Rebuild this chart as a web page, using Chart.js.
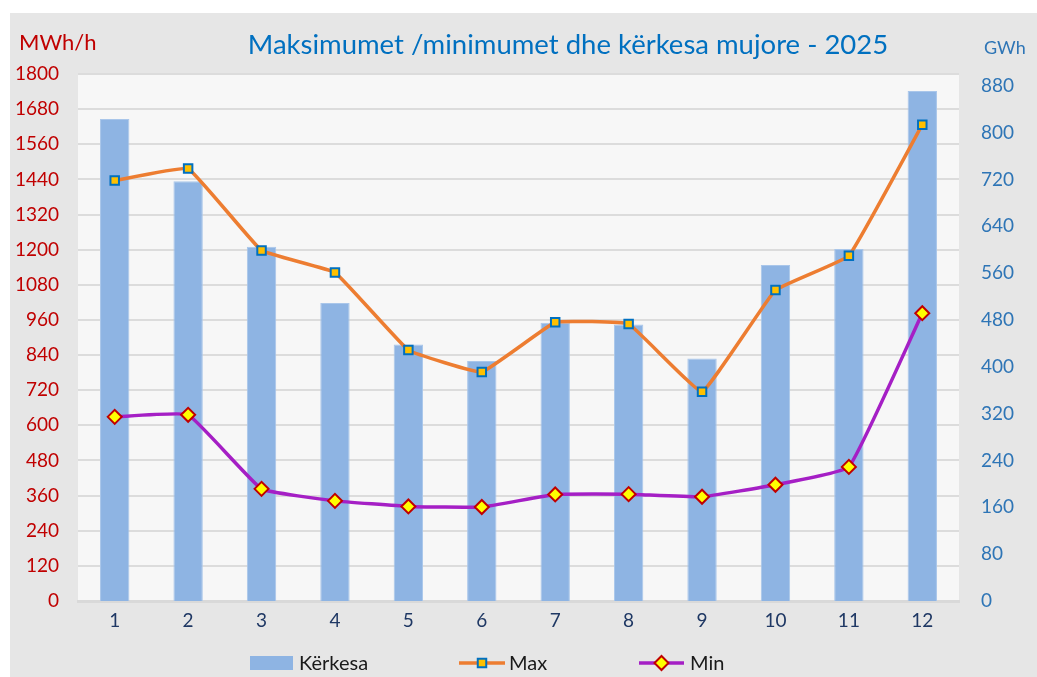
<!DOCTYPE html>
<html>
<head>
<meta charset="utf-8">
<script src="https://cdn.jsdelivr.net/npm/chart.js@4"></script>
<style>
  html, body { margin: 0; padding: 0; background: #fff; }
  #wrap { position: absolute; left: 10px; top: 13px; width: 1027px; height: 664px; background: #e6e6e6; }
  canvas { display: block; }
</style>
</head>
<body>
<div id="wrap"><canvas id="c" width="1027" height="664"></canvas></div>
<script>
// months
var MONTHS = ['1', '2', '3', '4', '5', '6', '7', '8', '9', '10', '11', '12'];
// monthly demand, GWh (right axis)
var KERKESA = [823, 717, 605, 509, 438, 410, 475, 472, 414, 574, 601, 871];
// hourly max / min, MWh/h (left axis)
var MAX = [1436, 1477, 1197, 1122, 857, 782, 952, 946, 715, 1062, 1179, 1627];
var MIN = [629, 636, 383, 342, 323, 321, 364, 365, 356, 397, 458, 983];

var TITLE = 'Maksimumet /minimumet dhe kërkesa mujore - 2025';
var FONT = "Lato, 'Open Sans', sans-serif";

var BAR_C = '#8eb4e3', MAX_C = '#ed7d31', MIN_C = '#a51fc5';

function plain(v) { return String(v); }   // no thousands separators

// plot background, title, unit labels, legend
var decor = {
  id: 'decor',
  beforeDraw: function (chart) {
    var a = chart.chartArea, ctx = chart.ctx;
    ctx.save();
    ctx.fillStyle = '#f7f7f7';
    ctx.fillRect(a.left, a.top, a.right - a.left, a.bottom - a.top);
    ctx.restore();
  },
  afterDraw: function (chart) {
    var ctx = chart.ctx;
    ctx.save();
    // title
    var sz = 30;
    ctx.font = sz + 'px ' + FONT;
    while (ctx.measureText(TITLE).width > 648 && sz > 16) { sz -= 0.5; ctx.font = sz + 'px ' + FONT; }
    ctx.fillStyle = '#0070c0';
    ctx.textAlign = 'center';
    ctx.textBaseline = 'middle';
    ctx.fillText(TITLE, 558, 32);
    // axis units
    ctx.font = '22px ' + FONT;
    ctx.fillStyle = '#c00000';
    ctx.textAlign = 'left';
    ctx.fillText('MWh/h', 9, 30);
    ctx.font = '18px ' + FONT;
    ctx.fillStyle = '#2e75b6';
    ctx.fillText('GWh', 974, 35);

    // legend
    var ly = 650;
    ctx.font = '20px ' + FONT;
    ctx.fillStyle = BAR_C;
    ctx.fillRect(240, ly - 7, 43, 14);
    ctx.fillStyle = '#1a1a1a';
    ctx.fillText(chart.data.datasets[0].label, 289, ly + 1);

    var items = [{ ds: chart.data.datasets[1], x0: 449, x1: 495, tx: 499 },
                 { ds: chart.data.datasets[2], x0: 629, x1: 674, tx: 680 }];
    items.forEach(function (it) {
      var d = it.ds;
      ctx.strokeStyle = d.borderColor;
      ctx.lineWidth = d.borderWidth;
      ctx.beginPath(); ctx.moveTo(it.x0, ly); ctx.lineTo(it.x1, ly); ctx.stroke();
      ctx.fillStyle = d.pointBackgroundColor;
      ctx.strokeStyle = d.pointBorderColor;
      ctx.lineWidth = d.pointBorderWidth;
      Chart.helpers.drawPoint(ctx, { pointStyle: d.pointStyle, rotation: 0, radius: d.pointRadius, borderWidth: d.pointBorderWidth }, (it.x0 + it.x1) / 2, ly);
      ctx.fillStyle = '#1a1a1a';
      ctx.fillText(d.label, it.tx, ly + 1);
    });
    ctx.restore();
  }
};

new Chart(document.getElementById('c'), {
  data: {
    labels: MONTHS,
    datasets: [
      { type: 'bar', label: 'Kërkesa', data: KERKESA, yAxisID: 'y1', order: 3,
        backgroundColor: BAR_C, borderColor: '#a9c6ea', borderWidth: 1,
        barPercentage: 0.40, categoryPercentage: 1 },
      { type: 'line', label: 'Max', data: MAX, yAxisID: 'y', order: 2,
        borderColor: MAX_C, borderWidth: 3.5, tension: 0.08,
        pointStyle: 'rect', pointRadius: 6, pointBorderWidth: 2,
        pointBackgroundColor: '#ffc000', pointBorderColor: '#0070c0' },
      { type: 'line', label: 'Min', data: MIN, yAxisID: 'y', order: 1,
        borderColor: MIN_C, borderWidth: 3.5, tension: 0.1,
        pointStyle: 'rectRot', pointRadius: 7, pointBorderWidth: 2,
        pointBackgroundColor: '#ffff00', pointBorderColor: '#c00000' }
    ]
  },
  options: {
    responsive: false, animation: false,
    layout: { padding: { top: 61, bottom: 36, left: 0, right: 0 } },
    plugins: { legend: { display: false }, tooltip: { enabled: false } },
    scales: {
      x: {
        grid: { display: false, drawTicks: false },
        border: { color: '#d9d9d9', width: 3 },
        ticks: { color: '#1f3864', font: { family: FONT, size: 19 }, padding: 8 },
        afterFit: function (s) { s.height = 40; }
      },
      y: {
        position: 'left', min: 0, max: 1800,
        grid: { color: '#dcdcdc', lineWidth: 2, drawTicks: false },
        border: { display: false },
        ticks: { stepSize: 120, color: '#c00000', font: { family: FONT, size: 19 }, padding: 19, callback: plain },
        afterFit: function (s) { s.width = 68; }
      },
      y1: {
        position: 'right', min: 0, max: 900,
        grid: { display: false, drawTicks: false },
        border: { display: false },
        ticks: { stepSize: 80, includeBounds: false, color: '#2e75b6', font: { family: FONT, size: 19 }, padding: 22, callback: plain },
        afterFit: function (s) { s.width = 78; }
      }
    }
  },
  plugins: [decor]
});
</script>
</body>
</html>
